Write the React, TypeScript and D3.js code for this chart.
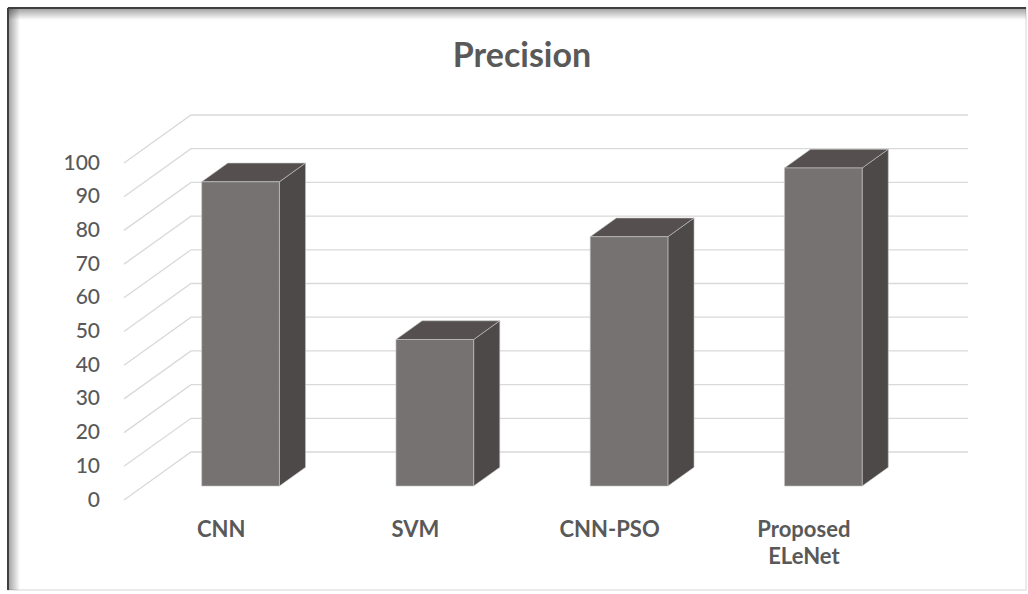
import React from "react";
import * as d3 from "d3";

// Chart data
const categories: string[][] = [["CNN"], ["SVM"], ["CNN-PSO"], ["Proposed", "ELeNet"]];
const precision: number[] = [90.3, 43.5, 74, 94.4];
const tickValues: number[] = [0, 10, 20, 30, 40, 50, 60, 70, 80, 90, 100];
const chartTitle = "Precision";

const W = 1028;
const H = 594;

// 3D projection of the floor: depth 0 = front, 1 = back
const DEPTH_DX = 67;
const DEPTH_DY = 48;
const FRONT_LEFT = 124;
const FRONT_RIGHT = 901;
const FLOOR_Y = 500;
const BAR_D0 = 0.29;
const BAR_D1 = 0.68;

const FRONT_COLOR = "#767271";
const SIDE_COLOR = "#4d4948";
const TOP_COLOR = "#55504f";
const GRID_COLOR = "#d9d9d9";
const TEXT_COLOR = "#595959";

export default function App() {
  const keys = categories.map((c) => c.join(" "));
  const x = d3.scaleBand<string>().domain(keys).range([FRONT_LEFT, FRONT_RIGHT]).padding(0);
  const y = d3.scaleLinear().domain([0, 100]).range([0, 337]);
  const barW = x.bandwidth() / 2.5;

  // project (front x, value, depth) into screen coordinates
  const proj = (fx: number, v: number, d: number): [number, number] => [
    fx + d * DEPTH_DX,
    FLOOR_Y - y(v) - d * DEPTH_DY,
  ];
  const poly = (pts: [number, number][]) => pts.map((p) => p.join(",")).join(" ");

  return (
    <svg
      width={W}
      height={H}
      style={{ position: "absolute", left: 0, top: 0, background: "#fff" }}
      fontFamily="Lato, 'Open Sans', sans-serif"
    >
      <defs>
        <linearGradient id="shadowTop" x1="0" y1="0" x2="0" y2="1">
          <stop offset="0" stopColor="#000" stopOpacity="0.35" />
          <stop offset="1" stopColor="#000" stopOpacity="0" />
        </linearGradient>
        <linearGradient id="shadowLeft" x1="0" y1="0" x2="1" y2="0">
          <stop offset="0" stopColor="#000" stopOpacity="0.35" />
          <stop offset="1" stopColor="#000" stopOpacity="0" />
        </linearGradient>
      </defs>

      {/* frame */}
      <rect x={8} y={8} width={1018} height={582} fill="#fff" stroke="#e4e4e4" strokeWidth={1.5} />
      <rect x={9} y={9} width={1017} height={11} fill="url(#shadowTop)" />
      <rect x={9} y={9} width={11} height={581} fill="url(#shadowLeft)" />
      <line x1={8} y1={8} x2={1026} y2={8} stroke="#3f3f3f" strokeWidth={2} />
      <line x1={8} y1={8} x2={8} y2={590} stroke="#3f3f3f" strokeWidth={2} />

      {/* title */}
      <text x={522} y={67} textAnchor="middle" fontSize={34} fontWeight={700} fill={TEXT_COLOR}>
        {chartTitle}
      </text>

      {/* side wall and back wall gridlines */}
      <g stroke={GRID_COLOR} strokeWidth={1.3} fill="none">
        {tickValues.map((v) => {
          const [ax, ay] = proj(FRONT_LEFT, v, 0);
          const [bx, by] = proj(FRONT_LEFT, v, 1);
          const [cx, cy] = proj(FRONT_RIGHT, v, 1);
          return <polyline key={v} points={poly([[ax, ay], [bx, by], [cx, cy]])} />;
        })}
      </g>

      {/* y tick labels */}
      <g fontSize={21} fontWeight={500} fill={TEXT_COLOR} textAnchor="end">
        {tickValues.map((v) => (
          <text key={v} x={100} y={FLOOR_Y - y(v) - 2} dominantBaseline="central">
            {v}
          </text>
        ))}
      </g>

      {/* bars */}
      {precision.map((v, i) => {
        const k = keys[i];
        const c = (x(k) as number) + x.bandwidth() / 2;
        const l = c - barW / 2;
        const r = c + barW / 2;
        const fbl = proj(l, 0, BAR_D0);
        const fbr = proj(r, 0, BAR_D0);
        const ftl = proj(l, v, BAR_D0);
        const ftr = proj(r, v, BAR_D0);
        const bbr = proj(r, 0, BAR_D1);
        const btl = proj(l, v, BAR_D1);
        const btr = proj(r, v, BAR_D1);
        return (
          <g key={k} stroke="#c8c8c8" strokeWidth={0.6} strokeLinejoin="round">
            <polygon points={poly([fbr, ftr, btr, bbr])} fill={SIDE_COLOR} />
            <polygon points={poly([ftl, btl, btr, ftr])} fill={TOP_COLOR} />
            <polygon points={poly([fbl, ftl, ftr, fbr])} fill={FRONT_COLOR} />
          </g>
        );
      })}

      {/* category labels */}
      <g fontSize={22} fontWeight={700} fill={TEXT_COLOR} textAnchor="middle">
        {categories.map((lines, i) => {
          const k = keys[i];
          const c = (x(k) as number) + x.bandwidth() / 2;
          return (
            <text key={k} x={c} y={537}>
              {lines.map((ln, j) => (
                <tspan key={ln} x={c} dy={j === 0 ? 0 : 27}>
                  {ln}
                </tspan>
              ))}
            </text>
          );
        })}
      </g>
    </svg>
  );
}
